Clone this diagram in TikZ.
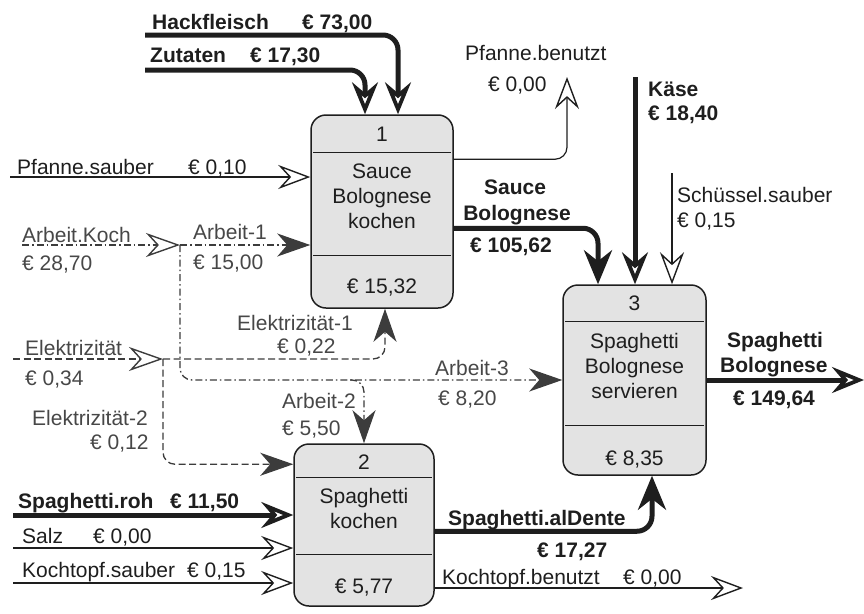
\documentclass[tikz,border=0pt]{standalone}
\usepackage{fontspec}
\setmainfont{Liberation Sans}
\usetikzlibrary{arrows.meta,positioning,calc}

\definecolor{boxgray}{HTML}{E3E3E3}
\definecolor{flowgray}{HTML}{3C3C3C}
\definecolor{labelgray}{HTML}{474747}
\definecolor{ink}{HTML}{1E1E1E}

\tikzset{
  procbox/.style={draw=ink, line width=1.5pt, rounded corners=15pt, fill=boxgray, inner sep=0pt},
  divider/.style={draw=ink, line width=1.2pt},
  boxtxt/.style={font=\fontsize{21}{25}\selectfont, text=ink, inner sep=0pt, align=center, anchor=base},
  lbl/.style={font=\fontsize{21}{25}\selectfont, text=ink, inner sep=0pt, anchor=base west},
  glbl/.style={lbl, text=labelgray},
  blbl/.style={lbl, font=\fontsize{21}{25}\selectfont\bfseries},
  heavyflow/.style={draw=ink, line width=5pt, -{Stealth[open, length=32pt, width=26pt, inset=11pt, line width=3.8pt]}},
  heavysolid/.style={draw=ink, line width=5pt, -{Stealth[length=34pt, width=28pt, inset=11pt]}},
  thinflow/.style={draw=ink, line width=1.2pt, -{Stealth[open, length=32pt, width=24pt, inset=11pt, line width=1.4pt]}},
  workflow/.style={draw=flowgray, line width=1.3pt, dash pattern=on 7pt off 3pt on 1.5pt off 3pt},
  powerflow/.style={draw=flowgray, line width=1.3pt, dash pattern=on 7pt off 3.5pt},
  fillend/.style={-{Stealth[length=33pt, width=23pt, inset=10pt, fill=flowgray]}},
  openend/.style={-{Stealth[open, length=34pt, width=24pt, inset=11pt, line width=1.4pt]}}
}

\begin{document}
\begin{tikzpicture}[x=1pt, y=-1pt]
\useasboundingbox (0,0) rectangle (864,613);

% process boxes
\node[procbox, minimum width=142pt, minimum height=193pt] (p1) at (382,211.5) {};
\node[procbox, minimum width=140pt, minimum height=162pt] (p2) at (364,525) {};
\node[procbox, minimum width=143pt, minimum height=190pt] (p3) at (634.5,380) {};

\draw[divider] ([xshift=3pt, yshift=-38pt]p1.north west) -- ([xshift=-3pt, yshift=-38pt]p1.north east);
\draw[divider] ([xshift=3pt, yshift=53pt]p1.south west) -- ([xshift=-3pt, yshift=53pt]p1.south east);
\draw[divider] ([xshift=3pt, yshift=-34pt]p2.north west) -- ([xshift=-3pt, yshift=-34pt]p2.north east);
\draw[divider] ([xshift=3pt, yshift=52pt]p2.south west) -- ([xshift=-3pt, yshift=52pt]p2.south east);
\draw[divider] ([xshift=3pt, yshift=-37pt]p3.north west) -- ([xshift=-3pt, yshift=-37pt]p3.north east);
\draw[divider] ([xshift=3pt, yshift=50pt]p3.south west) -- ([xshift=-3pt, yshift=50pt]p3.south east);

% base of a multi-line name = its last line
\node[boxtxt] (p1num) at (382,141) {1};
\node[boxtxt] (p1name) at (382,228) {Sauce\\Bolognese\\kochen};
\node[boxtxt] (p1cost) at (382,293) {€ 15,32};
\node[boxtxt] (p2num) at (364,469) {2};
\node[boxtxt] (p2name) at (364,528) {Spaghetti\\kochen};
\node[boxtxt] (p2cost) at (364,593) {€ 5,77};
\node[boxtxt] (p3num) at (634.5,310) {3};
\node[boxtxt] (p3name) at (634.5,398) {Spaghetti\\Bolognese\\servieren};
\node[boxtxt] (p3cost) at (634.5,465) {€ 8,35};

% material flows
\coordinate (hack) at (145,35);
\coordinate (zut) at (145,70);
\draw[heavyflow, rounded corners=15pt] (hack) -| ([xshift=16pt]p1.north);
\draw[heavyflow, rounded corners=15pt] (zut) -| ([xshift=-17pt]p1.north);

\coordinate (pfs) at (10,177);
\draw[thinflow] (pfs) -- (pfs -| p1.west);
\coordinate (pfb) at (567,77);
\draw[thinflow, rounded corners=12pt] ([yshift=-45pt]p1.north east) -| (pfb);

\coordinate (kase) at (635,77);
\draw[heavyflow] (kase) -- (kase |- p3.north);
\coordinate (schuessel) at (672,173);
\draw[thinflow] (schuessel) -- (schuessel |- p3.north);
\draw[heavysolid, rounded corners=15pt] ([yshift=-114pt]p1.north east) -| ([xshift=-36.5pt]p3.north);

\coordinate (roh) at (13,515);
\coordinate (salz) at (13,548);
\coordinate (topfs) at (13,583);
\draw[heavyflow] (roh) -- (roh -| p2.west);
\draw[thinflow] (salz) -- (salz -| p2.west);
\draw[thinflow] (topfs) -- (topfs -| p2.west);
\draw[heavysolid, rounded corners=15pt] ([yshift=-88pt]p2.north east) -| ([xshift=17.5pt]p3.south);
\coordinate (topfb) at (743,588);
\draw[thinflow] (topfb -| p2.east) -- (topfb);
\coordinate (serve) at (864,380);
\draw[heavyflow] (p3.east) -- (serve);

% labour
\coordinate (koch) at (22,245);
\coordinate (kochsplit) at (180,245);
\draw[workflow, openend] (koch) -- (kochsplit);
\draw[workflow, fillend] (kochsplit) -- (kochsplit -| p1.west);
\draw[workflow, fillend, rounded corners=12pt] (kochsplit) |- (p3.west);
\coordinate (arb2) at (350,380);
\draw[workflow, fillend, rounded corners=12pt] (arb2) -| (p2.north);

% power
\coordinate (strom) at (13,359);
\coordinate (stromsplit) at (163,359);
\draw[powerflow, openend] (strom) -- (stromsplit);
\draw[powerflow, fillend, rounded corners=12pt] (stromsplit) -| ([xshift=3pt]p1.south);
\draw[powerflow, fillend, rounded corners=12pt] (stromsplit) |- ([yshift=-21pt]p2.north west);

% labels
\node[blbl] (lhack) at (152,29) {Hackfleisch};
\node[blbl] (lhackv) at (302,29) {€ 73,00};
\node[blbl] (lzut) at (150,62) {Zutaten};
\node[blbl] (lzutv) at (250,62) {€ 17,30};
\node[lbl] (lpfb) at (465,60) {Pfanne.benutzt};
\node[lbl] (lpfbv) at (488,91) {€ 0,00};
\node[lbl] (lpfs) at (17,174) {Pfanne.sauber};
\node[lbl] (lpfsv) at (188,174) {€ 0,10};
\node[blbl] (lkase) at (648,96) {Käse};
\node[blbl] (lkasev) at (648,120) {€ 18,40};
\node[lbl] (lschu) at (677,202) {Schüssel.sauber};
\node[lbl] (lschuv) at (677,227) {€ 0,15};
\node[blbl, anchor=base] (lsauce) at (515,194) {Sauce};
\node[blbl, anchor=base] (lsauce2) at (517,220) {Bolognese};
\node[blbl, anchor=base] (lsaucev) at (511,252) {€ 105,62};
\node[glbl] (lkoch) at (22,242) {Arbeit.Koch};
\node[glbl] (lkochv) at (22,270) {€ 28,70};
\node[glbl] (larb1) at (193,239) {Arbeit-1};
\node[glbl] (larb1v) at (193,269) {€ 15,00};
\node[glbl] (lel1) at (237,330) {Elektrizität-1};
\node[glbl] (lel1v) at (277,353) {€ 0,22};
\node[glbl] (lstrom) at (25,355) {Elektrizität};
\node[glbl] (lstromv) at (25,385) {€ 0,34};
\node[glbl] (larb3) at (435,375) {Arbeit-3};
\node[glbl] (larb3v) at (438,405) {€ 8,20};
\node[glbl] (larb2) at (282,408) {Arbeit-2};
\node[glbl] (larb2v) at (282,435) {€ 5,50};
\node[glbl] (lel2) at (32,425) {Elektrizität-2};
\node[glbl] (lel2v) at (90,449) {€ 0,12};
\node[blbl] (lroh) at (18,508) {Spaghetti.roh};
\node[blbl] (lrohv) at (170,508) {€ 11,50};
\node[lbl] (lsalz) at (22,543) {Salz};
\node[lbl] (lsalzv) at (93,543) {€ 0,00};
\node[lbl] (ltopfs) at (22,577) {Kochtopf.sauber};
\node[lbl] (ltopfsv) at (187,577) {€ 0,15};
\node[blbl] (ldente) at (448,525) {Spaghetti.alDente};
\node[blbl] (ldentev) at (537,557) {€ 17,27};
\node[lbl] (ltopfb) at (442,584) {Kochtopf.benutzt};
\node[lbl] (ltopfbv) at (623,584) {€ 0,00};
\node[blbl] (lserve) at (727,347) {Spaghetti};
\node[blbl] (lserve2) at (720,372) {Bolognese};
\node[blbl] (lservev) at (733,405) {€ 149,64};
\end{tikzpicture}
\end{document}
